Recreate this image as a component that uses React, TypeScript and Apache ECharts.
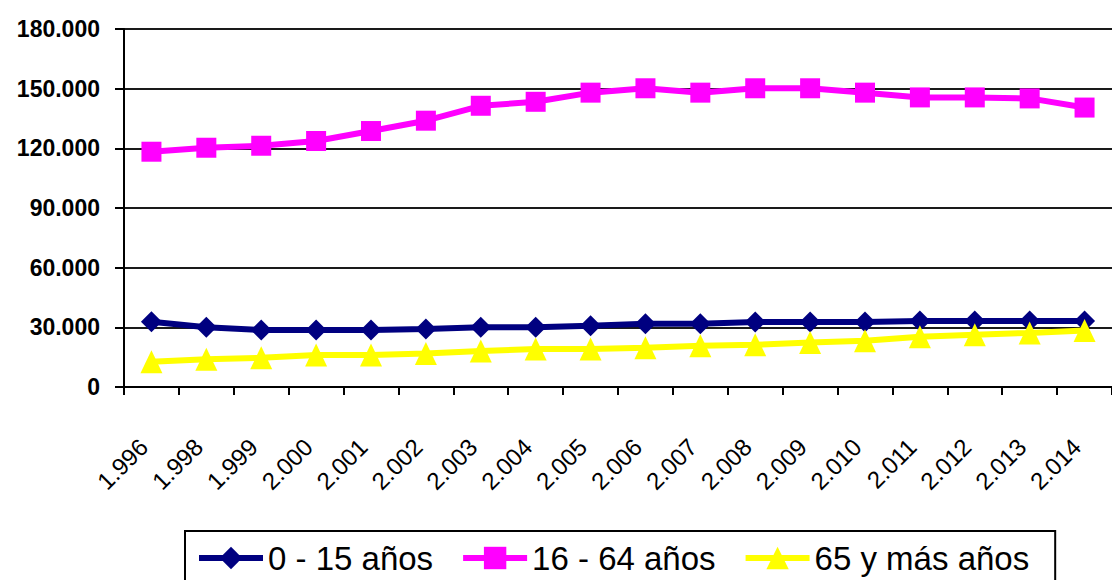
import React, { useEffect, useRef } from "react";
import * as echarts from "echarts";

const categories = [
  "1.996", "1.998", "1.999", "2.000", "2.001", "2.002", "2.003", "2.004", "2.005",
  "2.006", "2.007", "2.008", "2.009", "2.010", "2.011", "2.012", "2.013", "2.014",
];
const ninos = [32800, 30000, 28700, 28700, 28700, 29200, 30000, 30000, 30800, 31800, 31800, 32700, 32700, 32700, 33200, 33200, 33200, 33200];
const adultos = [118300, 120300, 121300, 123700, 128700, 133900, 141400, 143400, 148000, 150200, 148000, 150200, 150200, 148000, 145600, 145600, 145100, 140500];
const mayores = [12700, 13900, 14700, 16100, 16100, 16900, 18100, 19100, 19100, 19700, 20700, 21200, 22400, 23300, 25300, 26300, 27200, 28400];
const seriesNames = ["0 - 15 años", "16 - 64 años", "65 y más años"];
const yTicks = { min: 0, max: 180000, interval: 30000 };

const FONT = "'Liberation Sans', Arial, sans-serif";

const fmt = (v: number) => String(v).replace(/\B(?=(\d{3})+(?!\d))/g, ".");

export default function App() {
  const ref = useRef<HTMLDivElement>(null);
  useEffect(() => {
    if (!ref.current) return;
    const chart = echarts.init(ref.current, undefined, { renderer: "svg" });
    const mk = (name: string, data: number[], color: string, symbol: string, size: number[]) => ({
      name,
      type: "line",
      data,
      symbol,
      symbolSize: size,
      lineStyle: { color, width: 6 },
      itemStyle: { color, borderWidth: 0 },
    });
    chart.setOption({
      animation: false,
      backgroundColor: "#fff",
      grid: { left: 124, top: 29, width: 1000, height: 358 },
      xAxis: {
        type: "category",
        data: categories,
        boundaryGap: true,
        axisLine: { lineStyle: { color: "#000", width: 2 } },
        axisTick: { show: true, length: 8, lineStyle: { color: "#000", width: 2 }, alignWithLabel: false },
        axisLabel: {
          rotate: 45,
          margin: 48,
          padding: [0, 11, 0, 0],
          color: "#000",
          fontSize: 24,
          fontFamily: FONT,
          interval: 0,
        },
        splitLine: { show: false },
      },
      yAxis: {
        type: "value",
        min: yTicks.min,
        max: yTicks.max,
        interval: yTicks.interval,
        axisLine: { show: true, lineStyle: { color: "#000", width: 2 } },
        axisTick: { show: true, length: 9, lineStyle: { color: "#000", width: 2 } },
        axisLabel: {
          margin: 24,
          color: "#000",
          fontSize: 23,
          fontWeight: "bold",
          fontFamily: FONT,
          formatter: (v: number) => fmt(v),
        },
        splitLine: { show: true, lineStyle: { color: "#1a1a1a", width: 2 } },
      },
      legend: {
        left: 185,
        top: 531,
        orient: "horizontal",
        borderColor: "#000",
        borderWidth: 2,
        padding: [8, 26, 20, 11],
        itemWidth: 64,
        itemHeight: 28,
        itemGap: 27,
        lineStyle: { width: 6 },
        textStyle: { color: "#000", fontSize: 33, fontFamily: FONT, lineHeight: 38 },
        data: seriesNames,
      },
      series: [
        mk(seriesNames[0], ninos, "#000080", "diamond", [21, 21]),
        mk(seriesNames[1], adultos, "#FF00FF", "rect", [20, 20]),
        mk(seriesNames[2], mayores, "#FFFF00", "triangle", [22, 23]),
      ],
    });
    return () => chart.dispose();
  }, []);
  return (
    <div
      ref={ref}
      style={{ position: "absolute", left: 0, top: 0, width: 1112, height: 580, overflow: "hidden" }}
    />
  );
}
